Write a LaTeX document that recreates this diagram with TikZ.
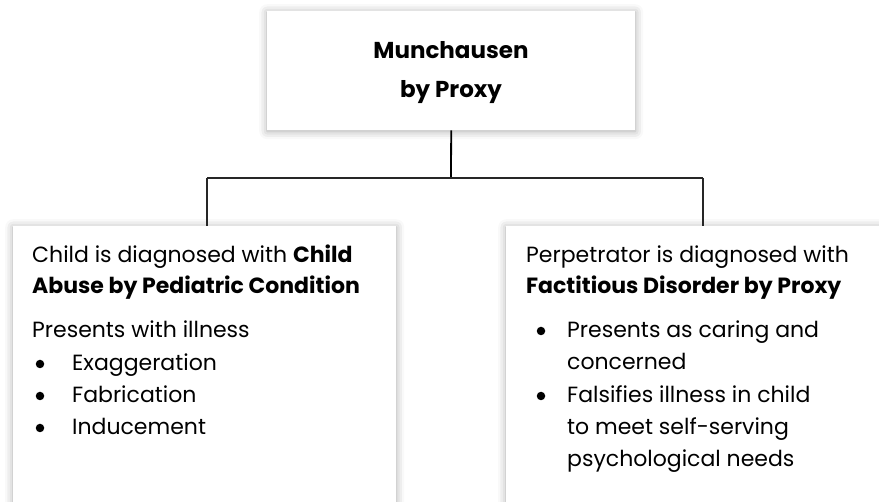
\documentclass[tikz,border=0pt]{standalone}
\usepackage{fontspec}
\setmainfont{Poppins}
\usetikzlibrary{shadows.blur}
\begin{document}
\begin{tikzpicture}[x=1pt,y=-1pt,
  panel/.style={fill=white, draw=none, inner sep=0pt, anchor=north west,
    blur shadow={shadow xshift=0pt, shadow yshift=-1pt, shadow blur radius=8pt, shadow opacity=35}},
  link/.style={line width=1.3pt, draw=black!85},
  body/.style={anchor=base west, inner sep=0pt, font=\fontsize{22}{26}\selectfont},
  dot/.style={circle, fill=black, draw=none, inner sep=0pt, minimum size=8.5pt},
  title/.style={anchor=base, inner sep=0pt, font=\fontsize{23}{28}\selectfont\bfseries}]
\useasboundingbox (0,0) rectangle (879,502);
% boxes
\node[panel, minimum width=368pt, minimum height=119pt] (top) at (267,11) {};
\node[panel, minimum width=383pt, minimum height=300pt] (left) at (13,226) {};
\node[panel, minimum width=400pt, minimum height=300pt] (right) at (506,226) {};
% connectors
\coordinate (bus) at (451,178);
\coordinate (ldrop) at (207,178);
\coordinate (rdrop) at (703,178);
\draw[link, line width=1.8pt, draw=black] (top.south) -- (bus);
\draw[link] (ldrop) -- (rdrop);
\draw[link] (ldrop) -- (ldrop |- left.north);
\draw[link] (rdrop) -- (rdrop |- right.north);
% title
\node[title] (t1) at (451,59) {Munchausen};
\node[title] (t2) at (451,98) {by Proxy};
% left panel text
\node[body] (l1) at (32,263) {Child is diagnosed with \textbf{Child}};
\node[body] (l2) at (32,294) {\textbf{Abuse by Pediatric Condition}};
\node[body] (l3) at (32,338) {Presents with illness};
\node[dot] (lb1) at (40,364) {};
\node[body] (l4) at (72,371) {Exaggeration};
\node[dot] (lb2) at (40,396) {};
\node[body] (l5) at (72,403) {Fabrication};
\node[dot] (lb3) at (40,428) {};
\node[body] (l6) at (72,435) {Inducement};
% right panel text
\node[body] (r1) at (526,263) {Perpetrator is diagnosed with};
\node[body] (r2) at (526,294) {\textbf{Factitious Disorder by Proxy}};
\node[dot] (rb1) at (541,331) {};
\node[body] (r3) at (567,338) {Presents as caring and};
\node[body] (r4) at (567,370) {concerned};
\node[dot] (rb2) at (541,396) {};
\node[body] (r5) at (567,403) {Falsifies illness in child};
\node[body] (r6) at (567,435) {to meet self-serving};
\node[body] (r7) at (567,467) {psychological needs};
\end{tikzpicture}
\end{document}
